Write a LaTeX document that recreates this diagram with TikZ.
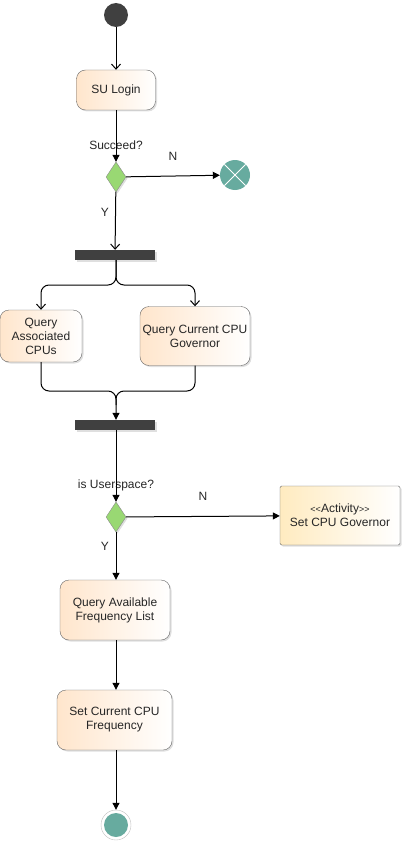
\documentclass[tikz,border=0pt]{standalone}
\usepackage{fontspec}
\setmainfont{Liberation Sans}
\usetikzlibrary{arrows.meta, shapes.geometric, shadows}

\begin{document}
\begin{tikzpicture}[x=1pt, y=-1pt,
  every node/.style = {font=\fontsize{12}{14}\selectfont, text=black!85},
  act/.style = {draw=black!60, rounded corners=9pt, left color=orange!20, right color=white,
    drop shadow={shadow xshift=1.5pt, shadow yshift=-1.5pt, opacity=.25}, align=center, inner sep=0pt},
  choice/.style = {diamond, draw=black!45, fill=green!45!olive!55, minimum width=20pt, minimum height=30pt, inner sep=0pt,
    drop shadow={shadow xshift=1.5pt, shadow yshift=-1.5pt, opacity=.25}},
  bar/.style = {fill=black!75, minimum width=80pt, minimum height=10pt, inner sep=0pt,
    drop shadow={shadow xshift=1.5pt, shadow yshift=-1.5pt, opacity=.25}},
  flow/.style = {line width=1pt, -{Triangle[length=7pt, width=7pt]}},
  fork/.style = {line width=1pt, -{Straight Barb[length=5pt, width=9pt]}},
  lbl/.style = {inner sep=0pt}]
\definecolor{teal}{HTML}{67AB9F}
\definecolor{actyellow}{HTML}{FFEBC0}
\useasboundingbox (0,0) rectangle (403,856);

% start and login
\node[circle, fill=black!75, minimum size=24pt, inner sep=0pt] (start) at (116,15) {};
\node[act, minimum width=79pt, minimum height=40pt] (login) at (116,90) {SU Login};
\node[choice] (ok) at (116,177) {};
\node[circle, fill=teal, minimum size=30pt, inner sep=0pt,
  path picture={\draw[white, line width=1pt] (path picture bounding box.south west) -- (path picture bounding box.north east)
    (path picture bounding box.north west) -- (path picture bounding box.south east);}] (stop) at (235,175) {};
\node[lbl] (succeed) at (116,145) {Succeed?};
\node[lbl] at (173,156) {N};
\node[lbl] at (105,212) {Y};

% fork
\node[bar] (fork1) at (115,255) {};
\node[act, minimum width=82pt, minimum height=52pt] (assoc) at (41,336) {Query\\Associated\\CPUs};
\node[act, minimum width=110pt, minimum height=59pt] (gov) at (195,336) {Query Current CPU\\Governor};
\node[bar] (fork2) at (115,425) {};

% second choice
\node[choice] (user) at (116,517) {};
\node[lbl] (userq) at (116,485) {is Userspace?};
\node[lbl] at (203,496) {N};
\node[lbl] at (105,546) {Y};
\node[draw=black!60, rounded corners=1.5pt, left color=actyellow, right color=white, align=center,
  minimum width=120pt, minimum height=59pt, inner sep=0pt,
  drop shadow={shadow xshift=1.5pt, shadow yshift=-1.5pt, opacity=.25}] (setgov) at (340,515.5)
  {{\fontsize{9}{12}\selectfont <{}<}Activity{\fontsize{9}{12}\selectfont >{}>}\\Set CPU Governor};

% frequency
\node[act, minimum width=110pt, minimum height=60pt] (avail) at (115,610) {Query Available\\Frequency List};
\node[act, minimum width=115pt, minimum height=60pt] (setfreq) at (114.5,720) {Set Current CPU\\Frequency};
\node[circle, draw=black!25, fill=white, minimum size=30pt, inner sep=0pt] (final) at (116,825) {};
\node[circle, fill=teal, minimum size=24pt, inner sep=0pt] at (final) {};

\draw[fork] (start) -- (login);
\draw[flow] (login) -- (ok);
\draw[flow] (ok) -- (stop);
\draw[fork] (ok) -- (fork1);
\draw[fork, rounded corners=8pt] (116,260) -- (116,285) -- (41,285) -- (assoc.north);
\draw[fork, rounded corners=8pt] (116,260) -- (116,285) -- (195,285) -- (gov.north);
\draw[line width=1pt, rounded corners=8pt] (assoc.south) -- (41,391) -- (116,391) -- (116,405);
\draw[flow, rounded corners=8pt] (gov.south) -- (195,391) -- (116,391) -- (fork2.north -| 116,0);
\draw[flow] (fork2.south -| 116,0) -- (user);
\draw[flow] (user) -- (setgov);
\draw[flow] (user) -- (avail.north -| 116,0);
\draw[flow] (avail.south -| 116,0) -- (setfreq.north -| 116,0);
\draw[flow] (setfreq.south -| 116,0) -- (final);

\end{tikzpicture}
\end{document}
